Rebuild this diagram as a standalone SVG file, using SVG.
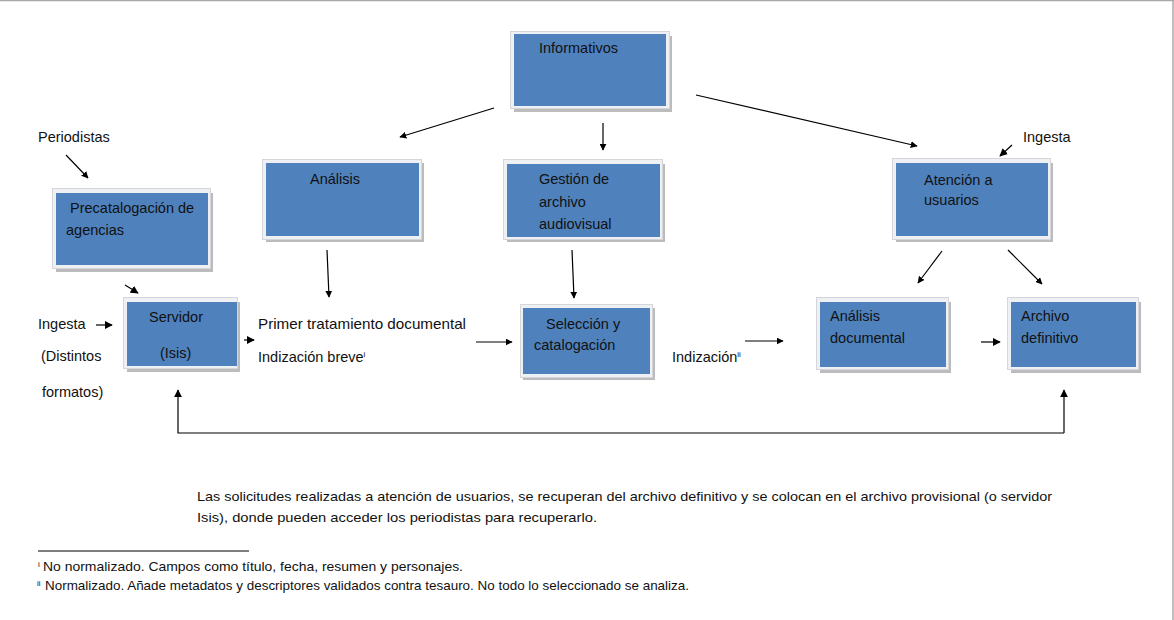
<svg xmlns="http://www.w3.org/2000/svg" width="1174" height="620" viewBox="0 0 1174 620">
<style>
text{font-family:"Liberation Sans",Arial,sans-serif;font-size:14.5px;fill:#111}
.small{font-size:13.5px}
.sup{font-size:8px}
.sh{fill:#bcbcbc}
.fr{fill:#eef0f4;stroke:#d4d6da;stroke-width:1}
.bl{fill:#4f81bd}
.c line,.c polyline{stroke:#000;stroke-width:1.2;fill:none}
</style>
<defs>
<marker id="ah" viewBox="0 0 10 10" refX="9" refY="5" markerWidth="7" markerHeight="7" markerUnits="userSpaceOnUse" orient="auto">
<path d="M0,0 L10,5 L0,10 z" fill="#000"/>
</marker>
<marker id="ahs" viewBox="0 0 10 10" refX="9" refY="5" markerWidth="8" markerHeight="8" markerUnits="userSpaceOnUse" orient="auto">
<path d="M0,0 L10,5 L0,10 z" fill="#000"/>
</marker>
</defs>
<rect x="0" y="0" width="1174" height="620" fill="#fff"/>
<line x1="0" y1="0.5" x2="1174" y2="0.5" stroke="#a8a8a8" stroke-width="1.5"/>
<line x1="1173" y1="0" x2="1173" y2="620" stroke="#a8a8a8" stroke-width="1.5"/>

<g id="informativos">
<rect class="sh" x="514" y="36" width="158" height="76"/>
<rect class="fr" x="510.5" y="31.5" width="159" height="77"/>
<rect class="bl" x="514" y="34" width="152" height="72"/>
<text x="539" y="53">Informativos</text>
</g>
<g id="precatalogacion">
<rect class="sh" x="56" y="193" width="157" height="79"/>
<rect class="fr" x="52.5" y="188.5" width="158" height="80"/>
<rect class="bl" x="56" y="193" width="152" height="72"/>
<text x="70" y="213">Precatalogación de</text>
<text x="66" y="235">agencias</text>
</g>
<g id="servidor">
<rect class="sh" x="127" y="302" width="113" height="70"/>
<rect class="fr" x="123.5" y="297.5" width="114" height="71"/>
<rect class="bl" x="127" y="302" width="110" height="64"/>
<text x="149" y="322">Servidor</text>
<text x="160" y="358">(Isis)</text>
</g>
<g id="analisis">
<rect class="sh" x="266" y="163" width="158" height="79"/>
<rect class="fr" x="262.5" y="159.5" width="159" height="80"/>
<rect class="bl" x="266" y="163" width="153" height="73"/>
<text x="310" y="184">Análisis</text>
</g>
<g id="gestion">
<rect class="sh" x="507" y="164" width="158" height="78"/>
<rect class="fr" x="503.5" y="159.5" width="159" height="80"/>
<rect class="bl" x="507" y="164" width="153" height="73"/>
<text x="539" y="184">Gestión de</text>
<text x="539" y="207">archivo</text>
<text x="539" y="229">audiovisual</text>
</g>
<g id="seleccion">
<rect class="sh" x="523" y="308" width="132" height="72"/>
<rect class="fr" x="520.5" y="304.5" width="132" height="73"/>
<rect class="bl" x="523" y="308" width="127" height="66"/>
<text x="546" y="329">Selección y</text>
<text x="534" y="350">catalogación</text>
</g>
<g id="atencion">
<rect class="sh" x="896" y="163" width="157" height="79"/>
<rect class="fr" x="892.5" y="158.5" width="158" height="81"/>
<rect class="bl" x="896" y="163" width="152" height="73"/>
<text x="924" y="185">Atención a</text>
<text x="924" y="205">usuarios</text>
</g>
<g id="analisis-documental">
<rect class="sh" x="820" y="302" width="131" height="71"/>
<rect class="fr" x="816.5" y="297.5" width="132" height="72"/>
<rect class="bl" x="820" y="302" width="126" height="65"/>
<text x="830" y="321">Análisis</text>
<text x="830" y="343">documental</text>
</g>
<g id="archivo-definitivo">
<rect class="sh" x="1011" y="302" width="130" height="71"/>
<rect class="fr" x="1007.5" y="297.5" width="131" height="72"/>
<rect class="bl" x="1011" y="302" width="125" height="65"/>
<text x="1021" y="321">Archivo</text>
<text x="1021" y="343">definitivo</text>
</g>

<g id="labels">
<text x="38" y="142">Periodistas</text>
<text x="38" y="329">Ingesta</text>
<text x="41" y="361">(Distintos</text>
<text x="42" y="397">formatos)</text>
<text x="258" y="329" textLength="208" lengthAdjust="spacingAndGlyphs">Primer tratamiento documental</text>
<text x="258" y="362">Indización  breve<tspan class="sup" dy="-5">i</tspan></text>
<text x="672" y="362">Indización<tspan class="sup" dy="-5">ii</tspan></text>
<text x="1023" y="142">Ingesta</text>
</g>

<g id="connectors" class="c">
<line x1="494" y1="108" x2="400" y2="137" marker-end="url(#ah)"/>
<line x1="603" y1="123" x2="603" y2="150" marker-end="url(#ah)"/>
<line x1="696" y1="95" x2="917" y2="146" marker-end="url(#ah)"/>
<line x1="66" y1="155" x2="88" y2="178" marker-end="url(#ah)"/>
<line x1="125" y1="285" x2="138" y2="293" marker-end="url(#ahs)"/>
<line x1="96" y1="325" x2="112" y2="325" marker-end="url(#ahs)"/>
<line x1="244" y1="340" x2="254" y2="340" marker-end="url(#ahs)"/>
<line x1="327" y1="250" x2="329" y2="297" marker-end="url(#ah)"/>
<line x1="476" y1="342" x2="512" y2="342" marker-end="url(#ah)"/>
<line x1="572" y1="250" x2="574" y2="298" marker-end="url(#ah)"/>
<line x1="745" y1="341" x2="783" y2="341" marker-end="url(#ah)"/>
<line x1="1012" y1="145" x2="1000" y2="156" marker-end="url(#ahs)"/>
<line x1="942" y1="251" x2="918" y2="283" marker-end="url(#ah)"/>
<line x1="1008" y1="250" x2="1042" y2="284" marker-end="url(#ah)"/>
<line x1="981" y1="342" x2="1000" y2="342" marker-end="url(#ahs)"/>
<polyline points="1064,433 178,433 178,390" marker-end="url(#ahs)"/>
<line x1="1064" y1="433" x2="1064" y2="390" marker-end="url(#ahs)"/>
</g>

<g id="note">
<text class="small" x="197" y="501" textLength="855" lengthAdjust="spacingAndGlyphs">Las solicitudes realizadas a atención de usuarios, se recuperan del archivo definitivo y se colocan en el archivo provisional (o servidor</text>
<text class="small" x="197" y="522" textLength="400" lengthAdjust="spacingAndGlyphs">Isis), donde  pueden  acceder los periodistas  para recuperarlo.</text>
</g>
<g id="footnotes">
<line x1="38" y1="551" x2="249" y2="551" stroke="#000" stroke-width="1"/>
<text class="sup" x="38" y="567">i</text>
<text class="small" x="43" y="571" textLength="420" lengthAdjust="spacingAndGlyphs">No normalizado. Campos como título, fecha, resumen y personajes.</text>
<text class="sup" x="37" y="586">ii</text>
<text class="small" x="45" y="590" textLength="644" lengthAdjust="spacingAndGlyphs">Normalizado. Añade metadatos y descriptores validados contra tesauro. No todo lo seleccionado se analiza.</text>
</g>
</svg>
